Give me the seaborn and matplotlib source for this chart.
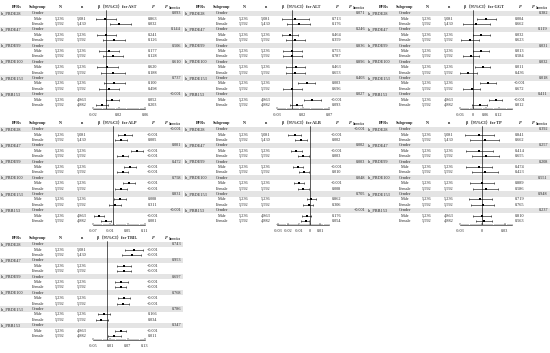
import numpy as np
import pandas as pd
import seaborn as sns
import matplotlib.pyplot as plt
from matplotlib.patches import Rectangle

sns.set_theme(style="white")
plt.rcParams['font.family'] = ['Liberation Serif', 'DejaVu Serif']

# =====================
# DATA
# =====================
bfrs = ['ln_PBDE28', 'ln_PBDE47', 'ln_PBDE99', 'ln_PBDE100', 'ln_PBDE153', 'ln_PBB153']
subgroups = ['Male', 'Female']
N_sub = ['5,236', '5,592']
n_male = ['5,081', '5,236', '5,236', '5,236', '5,236', '4,863']
n_female = ['5,430', '5,592', '5,592', '5,592', '5,592', '4,882']

# order in each list: (Male, Female) for PBDE28, PBDE47, PBDE99, PBDE100, PBDE153, PBB153
ast_beta = [-0.001, 0.020, 0.001, 0.012, 0.005, 0.011, 0.002, 0.011, 0.012, 0.005, 0.010, -0.006]
ast_lo = [-0.015, 0.006, -0.013, -0.005, -0.010, -0.005, -0.013, -0.007, -0.003, -0.010, 0.000, -0.015]
ast_hi = [0.016, 0.039, 0.016, 0.030, 0.020, 0.027, 0.018, 0.029, 0.029, 0.020, 0.020, 0.003]
ast_p = ['0.863', '0.032', '0.241', '0.126', '0.177', '0.128', '0.620', '0.188', '0.100', '0.498', '0.052', '0.203']
ast_pint = ['0.093', '0.144', '0.506', '0.610', '0.737', '<0.001']

alt_beta = [0.005, 0.012, -0.004, 0.005, 0.000, 0.000, 0.006, 0.005, 0.027, 0.000, 0.038, 0.008]
alt_lo = [-0.020, -0.010, -0.019, -0.013, -0.017, -0.017, -0.013, -0.013, 0.010, -0.017, 0.022, -0.004]
alt_hi = [0.031, 0.033, 0.010, 0.025, 0.019, 0.019, 0.025, 0.024, 0.043, 0.019, 0.055, 0.019]
alt_p = ['0.713', '0.176', '0.464', '0.359', '0.753', '0.787', '0.463', '0.653', '0.003', '0.696', '<0.001', '0.093']
alt_pint = ['0.071', '0.246', '0.836', '0.896', '0.403', '0.027']

ggt_beta = [0.061, 0.016, 0.038, -0.013, 0.039, -0.009, 0.045, -0.020, 0.069, -0.005, 0.105, 0.031]
ggt_lo = [0.019, -0.044, 0.003, -0.052, 0.003, -0.044, 0.008, -0.060, 0.034, -0.044, 0.074, -0.005]
ggt_hi = [0.105, 0.081, 0.078, 0.027, 0.074, 0.027, 0.081, 0.019, 0.105, 0.034, 0.136, 0.066]
ggt_p = ['0.004', '0.662', '0.032', '0.623', '0.013', '0.584', '0.011', '0.436', '<0.001', '0.672', '<0.001', '0.012']
ggt_pint = ['0.382', '0.119', '0.031', '0.032', '0.018', '0.411']

alp_beta = [0.041, 0.026, 0.081, 0.033, 0.058, 0.033, 0.055, 0.026, 0.024, 0.007, -0.048, -0.024]
alp_lo = [0.018, 0.007, 0.061, 0.015, 0.038, 0.015, 0.035, 0.007, 0.004, -0.013, -0.064, -0.041]
alp_hi = [0.064, 0.047, 0.102, 0.053, 0.079, 0.053, 0.076, 0.047, 0.043, 0.026, -0.031, -0.007]
alp_p = ['<0.001', '0.005', '<0.001', '<0.001', '<0.001', '<0.001', '<0.001', '<0.001', '0.008', '0.311', '<0.001', '0.001']
alp_pint = ['<0.001', '0.001', '0.472', '0.758', '0.831', '<0.001']

alb_beta = [-0.014, -0.008, -0.013, -0.006, -0.011, -0.005, -0.010, -0.006, 0.0015, -0.001, -0.003, -0.004]
alb_lo = [-0.020, -0.014, -0.018, -0.011, -0.016, -0.010, -0.015, -0.011, -0.003, -0.006, -0.007, -0.008]
alb_hi = [-0.008, -0.003, -0.007, -0.001, -0.006, -0.001, -0.005, -0.001, 0.006, 0.003, 0.001, -0.001]
alb_p = ['<0.001', '0.002', '<0.001', '0.003', '<0.001', '0.010', '<0.001', '0.008', '0.862', '0.306', '0.176', '0.054']
alb_pint = ['<0.001', '0.002', '0.003', '0.048', '0.705', '<0.001']

tp_beta = [-0.004, 0.004, -0.004, 0.005, -0.004, 0.004, 0.000, 0.005, -0.003, 0.001, 0.000, 0.002]
tp_lo = [-0.023, -0.016, -0.021, -0.014, -0.021, -0.013, -0.016, -0.012, -0.018, -0.015, -0.012, -0.008]
tp_hi = [0.016, 0.023, 0.014, 0.023, 0.013, 0.021, 0.016, 0.021, 0.013, 0.016, 0.012, 0.013]
tp_p = ['0.841', '0.662', '0.414', '0.655', '0.474', '0.423', '0.889', '0.586', '0.719', '0.765', '0.810', '0.563']
tp_pint = ['0.392', '0.257', '0.208', '0.551', '0.948', '0.237']

tbil_beta = [0.092, 0.086, 0.058, 0.058, 0.048, 0.046, 0.058, 0.054, -0.010, -0.020, 0.046, 0.024]
tbil_lo = [0.062, 0.052, 0.034, 0.034, 0.028, 0.026, 0.036, 0.034, -0.032, -0.040, 0.028, 0.004]
tbil_hi = [0.124, 0.116, 0.082, 0.082, 0.070, 0.066, 0.080, 0.076, 0.010, 0.002, 0.064, 0.046]
tbil_p = ['<0.001', '<0.001', '<0.001', '<0.001', '<0.001', '<0.001', '<0.001', '<0.001', '0.166', '0.034', '<0.001', '0.011']
tbil_pint = ['0.743', '0.953', '0.697', '0.768', '0.786', '0.347']

outcomes = ['AST', 'ALT', 'GGT', 'ALP', 'ALB', 'TP', 'TBIL']
xticks = {
    'AST': [-0.02, 0.02, 0.06],
    'ALT': [-0.03, 0.02, 0.07],
    'GGT': [-0.06, 0, 0.06, 0.12],
    'ALP': [-0.07, -0.01, 0.05, 0.11],
    'ALB': [-0.03, -0.02, -0.01, 0, 0.01],
    'TP': [-0.03, 0, 0.03],
    'TBIL': [-0.05, 0.01, 0.07, 0.13],
}
xlims = {
    'AST': (-0.02, 0.06), 'ALT': (-0.03, 0.07), 'GGT': (-0.06, 0.18),
    'ALP': (-0.07, 0.11), 'ALB': (-0.031, 0.018), 'TP': (-0.03, 0.04),
    'TBIL': (-0.05, 0.13),
}
data = {
    'AST': (ast_beta, ast_lo, ast_hi, ast_p, ast_pint),
    'ALT': (alt_beta, alt_lo, alt_hi, alt_p, alt_pint),
    'GGT': (ggt_beta, ggt_lo, ggt_hi, ggt_p, ggt_pint),
    'ALP': (alp_beta, alp_lo, alp_hi, alp_p, alp_pint),
    'ALB': (alb_beta, alb_lo, alb_hi, alb_p, alb_pint),
    'TP': (tp_beta, tp_lo, tp_hi, tp_p, tp_pint),
    'TBIL': (tbil_beta, tbil_lo, tbil_hi, tbil_p, tbil_pint),
}

# =====================
# LAYOUT (pixels)
# =====================
W, H = 550, 353
PW, PH = 183, 118
origins = [(0, 0), (184, 0), (367, 0), (0, 116), (184, 116), (367, 116), (0, 231)]
FS = 3.1
band_color = '#e4e4e4'
row_y = 13.3 + np.arange(18) * 5.39
fx0, fx1, fy0, fy1 = 92.7, 145.0, 10.0, 109.3

fig = plt.figure(figsize=(W / 100, H / 100), dpi=100)


def fig_rect(ox, oy, x0, y0, x1, y1):
    return [(ox + x0) / W, 1 - (oy + y1) / H, (x1 - x0) / W, (y1 - y0) / H]


for name, (ox, oy) in zip(outcomes, origins):
    beta, lo, hi, pvals, pint = data[name]

    # table part
    tab = fig.add_axes(fig_rect(ox, oy, 0, 0, PW, PH))
    tab.set_xlim(0, PW)
    tab.set_ylim(PH, 0)
    tab.axis('off')
    hy = 6.7
    tab.text(16.5, hy, 'BFRs', ha='center', va='center', fontsize=FS, fontweight='bold')
    tab.text(38, hy, 'Subgroup', ha='center', va='center', fontsize=FS, fontweight='bold')
    tab.text(60, hy, 'N', ha='center', va='center', fontsize=FS, fontweight='bold')
    tab.text(82, hy, 'n', ha='center', va='center', fontsize=FS, fontweight='bold')
    tab.text(117, hy, f'β（95%CI）for {name}', ha='center', va='center', fontsize=FS,
             fontweight='bold', family=['Liberation Serif', 'Noto Sans CJK SC'])
    tab.text(153, hy, 'P', ha='center', va='center', fontsize=FS, fontweight='bold', style='italic')
    tab.text(166.5, hy, 'P', ha='center', va='center', fontsize=FS, fontweight='bold', style='italic')
    tab.text(168.5, hy + 1.4, 'Interaction', ha='left', va='center', fontsize=1.8, fontweight='bold')

    for g, bfr in enumerate(bfrs):
        gy = row_y[3 * g]
        tab.add_patch(Rectangle((0, gy - 2.6), PW, 5.2, color=band_color, lw=0, zorder=0))
        tab.text(1, gy, bfr, ha='left', va='center', fontsize=FS)
        tab.text(38, gy, 'Gender', ha='center', va='center', fontsize=FS)
        tab.text(181, gy, pint[g], ha='right', va='center', fontsize=FS)
        n_vals = [n_male[g], n_female[g]]
        for s in range(2):
            sy = row_y[3 * g + 1 + s]
            tab.text(38, sy, subgroups[s], ha='center', va='center', fontsize=FS)
            tab.text(60, sy, N_sub[s], ha='center', va='center', fontsize=FS)
            tab.text(82, sy, n_vals[s], ha='center', va='center', fontsize=FS)
            tab.text(153, sy, pvals[2 * g + s], ha='center', va='center', fontsize=FS)

    # forest part
    fa = fig.add_axes(fig_rect(ox, oy, fx0, fy0, fx1, fy1))
    fa.patch.set_alpha(0)
    ys = [row_y[3 * g + 1 + s] for g in range(6) for s in range(2)]
    df = pd.DataFrame({'beta': beta, 'lo': lo, 'hi': hi, 'y': ys})
    fa.axvline(0, color='black', lw=0.45, zorder=1)
    fa.errorbar(df['beta'], df['y'], xerr=[df['beta'] - df['lo'], df['hi'] - df['beta']],
                fmt='none', ecolor='black', elinewidth=0.4, capsize=0.9, capthick=0.4, zorder=2)
    sns.scatterplot(data=df, x='beta', y='y', marker='s', color='black', s=4,
                    linewidth=0, ax=fa, zorder=3)
    fa.set_xlim(*xlims[name])
    fa.set_ylim(fy1, fy0)
    fa.set_xlabel('')
    fa.set_ylabel('')
    fa.set_yticks([])
    for sp in ['top', 'left', 'right']:
        fa.spines[sp].set_visible(False)
    fa.spines['bottom'].set_linewidth(0.4)
    fa.spines['bottom'].set_color('black')
    tk = xticks[name]
    fa.set_xticks(tk)
    fa.set_xticklabels([('0' if t == 0 else f'{t:g}') for t in tk], fontsize=FS)
    xl = xlims[name]
    fa.set_xticks(np.linspace(xl[0], xl[1], 25), minor=True)
    fa.tick_params(axis='x', which='major', direction='in', length=1.3, width=0.35, pad=2.5,
                   color='black', bottom=True)
    fa.tick_params(axis='x', which='minor', direction='in', length=0.8, width=0.3,
                   color='black', bottom=True)

plt.savefig('out.png', dpi=100)
